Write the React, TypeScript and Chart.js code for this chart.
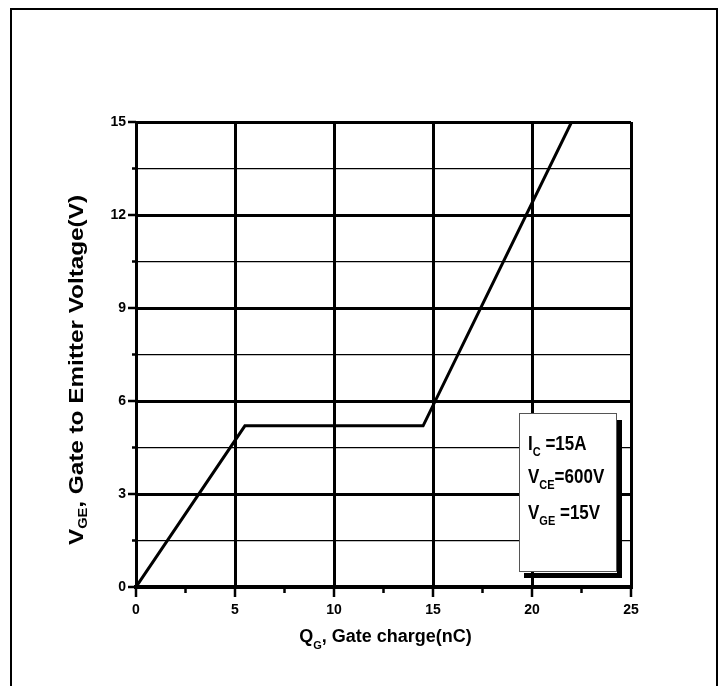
import React, { useEffect, useRef } from 'react';
import { Chart, registerables } from 'chart.js';

Chart.register(...registerables);

// ---- data ----
const gateCharge = [0, 5.5, 14.5, 22]; // nC
const gateVoltage = [0, 5.2, 5.2, 15]; // V
const xTickLabels = ['0', '5', '10', '15', '20', '25'];
const yTickLabels = ['0', '3', '6', '9', '12', '15'];

type Part = { t: string; sub?: boolean };
const conditionLines: Part[][] = [
  [{ t: 'I' }, { t: 'C', sub: true }, { t: ' =15A' }],
  [{ t: 'V' }, { t: 'CE', sub: true }, { t: '=600V' }],
  [{ t: 'V' }, { t: 'GE', sub: true }, { t: ' =15V' }],
];
const xTitle: Part[] = [{ t: 'Q' }, { t: 'G', sub: true }, { t: ', Gate charge(nC)' }];
const yTitle: Part[] = [{ t: 'V' }, { t: 'GE', sub: true }, { t: ', Gate to Emitter Voltage(V)' }];

const FONT = '"Liberation Sans", Arial, Helvetica, sans-serif';

const near = (v: number, step: number) => Math.abs(v / step - Math.round(v / step)) < 1e-6;

function measureRich(ctx: CanvasRenderingContext2D, parts: Part[], size: number, subSize: number) {
  let w = 0;
  for (const p of parts) {
    ctx.font = `bold ${p.sub ? subSize : size}px ${FONT}`;
    w += ctx.measureText(p.t).width;
  }
  return w;
}

function drawRich(ctx: CanvasRenderingContext2D, parts: Part[], size: number, subSize: number, subDrop: number) {
  let x = 0;
  ctx.textAlign = 'left';
  ctx.textBaseline = 'alphabetic';
  for (const p of parts) {
    ctx.font = `bold ${p.sub ? subSize : size}px ${FONT}`;
    ctx.fillText(p.t, x, p.sub ? subDrop : 0);
    x += ctx.measureText(p.t).width;
  }
  return x;
}

const decorPlugin = {
  id: 'decor',
  beforeDraw(chart: any) {
    const ctx: CanvasRenderingContext2D = chart.ctx;
    ctx.save();
    ctx.fillStyle = '#ffffff';
    ctx.fillRect(0, 0, chart.width, chart.height);
    ctx.strokeStyle = '#000000';
    ctx.lineWidth = 2;
    ctx.strokeRect(11, 9, 706, 690);
    ctx.restore();
  },
  afterDraw(chart: any) {
    const ctx: CanvasRenderingContext2D = chart.ctx;
    const xs = chart.scales.x;
    const ys = chart.scales.y;
    const area = chart.chartArea;
    ctx.save();
    ctx.strokeStyle = '#000';
    ctx.fillStyle = '#000';
    ctx.lineWidth = 2.5;
    ctx.lineCap = 'butt';
    // y ticks
    for (const tk of ys.ticks) {
      const py = ys.getPixelForValue(tk.value);
      const len = near(tk.value, 3) ? 8 : 4;
      ctx.beginPath();
      ctx.moveTo(area.left - len, py);
      ctx.lineTo(area.left, py);
      ctx.stroke();
    }
    // x ticks
    for (const tk of xs.ticks) {
      const px = xs.getPixelForValue(tk.value);
      const len = near(tk.value, 5) ? 10 : 6;
      ctx.beginPath();
      ctx.moveTo(px, area.bottom);
      ctx.lineTo(px, area.bottom + len);
      ctx.stroke();
    }

    // x title
    const xw = measureRich(ctx, xTitle, 18, 11);
    ctx.save();
    ctx.translate((area.left + area.right) / 2 + 2 - xw / 2, 642);
    drawRich(ctx, xTitle, 18, 11, 7);
    ctx.restore();

    // y title (rotated, stretched along text)
    const yw = measureRich(ctx, yTitle, 20, 12);
    const sx = 350 / yw;
    ctx.save();
    ctx.translate(83, 370);
    ctx.rotate(-Math.PI / 2);
    ctx.scale(sx, 1);
    ctx.translate(-yw / 2, 0);
    drawRich(ctx, yTitle, 20, 12, 4);
    ctx.restore();

    // conditions box with shadow
    ctx.fillStyle = '#000';
    ctx.fillRect(617, 420, 5, 158);
    ctx.fillRect(524, 573, 98, 5);
    ctx.fillStyle = '#fff';
    ctx.fillRect(519, 413, 97, 158);
    ctx.strokeStyle = '#555';
    ctx.lineWidth = 1;
    ctx.strokeRect(519.5, 413.5, 97, 158);
    ctx.fillStyle = '#000';
    const baselines = [450, 483, 519];
    conditionLines.forEach((parts, i) => {
      ctx.save();
      ctx.translate(528, baselines[i]);
      ctx.scale(1, 1.2);
      drawRich(ctx, parts, 17, 11, 5);
      ctx.restore();
    });
    ctx.restore();
  },
};

export default function App() {
  const ref = useRef<HTMLCanvasElement | null>(null);
  useEffect(() => {
    if (!ref.current) return;
    const points = gateCharge.map((x, i) => ({ x, y: gateVoltage[i] }));
    const chart = new Chart(ref.current, {
      type: 'line',
      data: {
        datasets: [
          {
            data: points,
            borderColor: '#000',
            borderWidth: 3,
            pointRadius: 0,
            fill: false,
            tension: 0,
          },
        ],
      },
      options: {
        animation: false,
        responsive: false,
        devicePixelRatio: 1,
        layout: { padding: { left: 106, top: 122, right: 90, bottom: 69 } },
        plugins: { legend: { display: false }, tooltip: { enabled: false }, title: { display: false } },
        scales: {
          x: {
            type: 'linear',
            min: 0,
            max: 25,
            afterFit: (s: any) => {
              s.height = 30;
            },
            ticks: {
              stepSize: 2.5,
              autoSkip: false,
              maxRotation: 0,
              padding: 15,
              color: '#000',
              font: { family: FONT, size: 14, weight: 'bold' },
              callback: (v: any) => {
                const s = String(Math.round(Number(v) * 100) / 100);
                return near(Number(v), 5) && xTickLabels.includes(s) ? s : '';
              },
            },
            grid: {
              drawTicks: false,
              color: '#000',
              lineWidth: (c: any) => (c.tick && near(c.tick.value, 5) ? 3 : 0),
            },
            border: { display: true, color: '#000', width: 4 },
          },
          y: {
            type: 'linear',
            min: 0,
            max: 15,
            afterFit: (s: any) => {
              s.width = 30;
            },
            ticks: {
              stepSize: 1.5,
              autoSkip: false,
              padding: 10,
              color: '#000',
              font: { family: FONT, size: 14, weight: 'bold' },
              callback: (v: any) => {
                const s = String(Math.round(Number(v) * 100) / 100);
                return near(Number(v), 3) && yTickLabels.includes(s) ? s : '';
              },
            },
            grid: {
              drawTicks: false,
              color: '#000',
              lineWidth: (c: any) => (c.tick && near(c.tick.value, 3) ? 3 : 1.3),
            },
            border: { display: true, color: '#000', width: 3 },
          },
        },
      },
      plugins: [decorPlugin],
    } as any);
    return () => chart.destroy();
  }, []);
  return (
    <div style={{ position: 'absolute', left: 0, top: 0, width: 721, height: 686 }}>
      <canvas ref={ref} width={721} height={686} style={{ display: 'block' }} />
    </div>
  );
}
